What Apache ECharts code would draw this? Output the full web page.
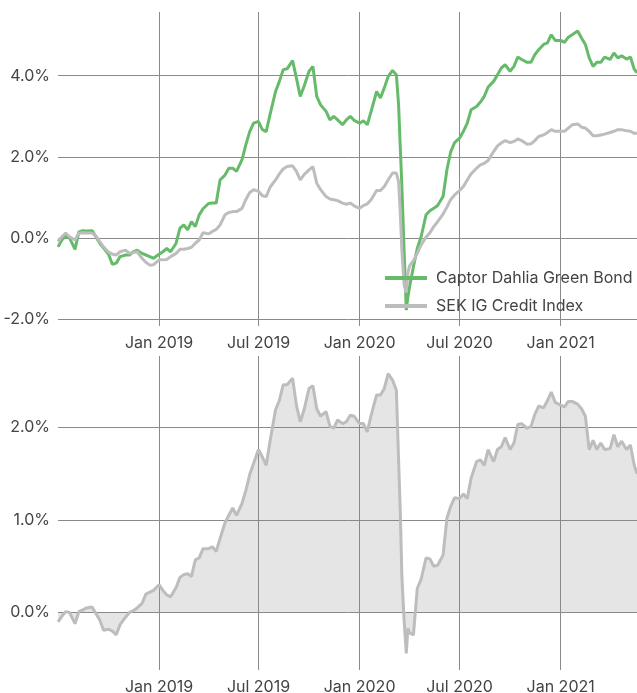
<!DOCTYPE html>
<html>
<head>
<meta charset="utf-8">
<title>Captor Dahlia Green Bond vs SEK IG Credit Index</title>
<script src="https://cdn.jsdelivr.net/npm/echarts@6/dist/echarts.min.js"></script>
<style>
  html, body { margin: 0; padding: 0; background: #fff; }
  #chart { width: 637px; height: 693px; }
</style>
</head>
<body>
<div id="chart"></div>
<script>
// observation dates (roughly weekly, denser around the March 2020 drop)
var dates = [
  '2018-07-01', '2018-07-08', '2018-07-15', '2018-07-22', '2018-08-01', '2018-08-08', '2018-08-15', '2018-08-22',
  '2018-09-01', '2018-09-08', '2018-09-15', '2018-09-22', '2018-10-01', '2018-10-08', '2018-10-15', '2018-10-22',
  '2018-11-01', '2018-11-08', '2018-11-15', '2018-11-22', '2018-12-01', '2018-12-08', '2018-12-15', '2018-12-22',
  '2019-01-01', '2019-01-08', '2019-01-15', '2019-01-22', '2019-02-01', '2019-02-08', '2019-02-15', '2019-02-22',
  '2019-03-01', '2019-03-08', '2019-03-15', '2019-03-22', '2019-04-01', '2019-04-08', '2019-04-15', '2019-04-22',
  '2019-05-01', '2019-05-08', '2019-05-15', '2019-05-22', '2019-06-01', '2019-06-08', '2019-06-15', '2019-06-22',
  '2019-07-01', '2019-07-08', '2019-07-15', '2019-07-22', '2019-08-01', '2019-08-08', '2019-08-15', '2019-08-22',
  '2019-09-01', '2019-09-08', '2019-09-15', '2019-09-22', '2019-10-01', '2019-10-08', '2019-10-15', '2019-10-22',
  '2019-11-01', '2019-11-08', '2019-11-15', '2019-11-22', '2019-12-01', '2019-12-08', '2019-12-15', '2019-12-22',
  '2020-01-01', '2020-01-08', '2020-01-15', '2020-01-22', '2020-02-01', '2020-02-08', '2020-02-15', '2020-02-22',
  '2020-03-01', '2020-03-08', '2020-03-12', '2020-03-15', '2020-03-18', '2020-03-22', '2020-03-26', '2020-03-29',
  '2020-04-01', '2020-04-08', '2020-04-15', '2020-04-22', '2020-05-01', '2020-05-08', '2020-05-15', '2020-05-22',
  '2020-06-01', '2020-06-08', '2020-06-15', '2020-06-22', '2020-07-01', '2020-07-08', '2020-07-15', '2020-07-22',
  '2020-08-01', '2020-08-08', '2020-08-15', '2020-08-22', '2020-09-01', '2020-09-08', '2020-09-15', '2020-09-22',
  '2020-10-01', '2020-10-08', '2020-10-15', '2020-10-22', '2020-11-01', '2020-11-08', '2020-11-15', '2020-11-22',
  '2020-12-01', '2020-12-08', '2020-12-15', '2020-12-22',
  '2021-01-01', '2021-01-08', '2021-01-15', '2021-01-22', '2021-02-01', '2021-02-08', '2021-02-15', '2021-02-22',
  '2021-03-01', '2021-03-08', '2021-03-15', '2021-03-22', '2021-04-01', '2021-04-08', '2021-04-15', '2021-04-22',
  '2021-05-01', '2021-05-08', '2021-05-15', '2021-05-20'
]

// cumulative return, %
var dahliaReturn = [
  -0.22, -0.05, 0.05, 0.0, -0.28, 0.15, 0.18, 0.17, 0.18, 0.03, -0.13, -0.25,
  -0.4, -0.65, -0.62, -0.46, -0.42, -0.42, -0.34, -0.3, -0.38, -0.42, -0.46, -0.5,
  -0.4, -0.34, -0.26, -0.34, -0.13, 0.24, 0.32, 0.2, 0.4, 0.28, 0.57, 0.72,
  0.85, 0.86, 0.86, 1.43, 1.55, 1.72, 1.72, 1.64, 1.93, 2.3, 2.62, 2.83,
  2.87, 2.67, 2.62, 3.04, 3.61, 3.86, 4.15, 4.17, 4.37, 3.94, 3.49, 3.74,
  4.11, 4.23, 3.49, 3.28, 3.12, 2.91, 3.0, 2.91, 2.79, 2.91, 3.0, 2.9,
  2.83, 2.89, 2.79, 3.12, 3.61, 3.45, 3.7, 3.98, 4.13, 4.02,
  3.28, 2.26, 1.27, -0.3, -1.78, -1.45,
  -1.2, -0.71, -0.26, 0.03, 0.57, 0.67, 0.73, 0.8, 1.02, 1.68, 2.13, 2.35,
  2.46, 2.63, 2.83, 3.16, 3.24, 3.35, 3.49, 3.72, 3.86, 4.02, 4.19, 4.27,
  4.11, 4.23, 4.46, 4.4, 4.33, 4.33, 4.52, 4.64, 4.77, 4.81, 5.01, 4.87,
  4.87, 4.82, 4.95, 5.01, 5.1, 4.93, 4.77, 4.44, 4.23, 4.33, 4.33, 4.46,
  4.4, 4.56, 4.44, 4.49, 4.41, 4.46, 4.16, 4.07
]

var creditIndexReturn = [
  -0.09, 0.03, 0.12, 0.03, -0.05, 0.12, 0.13, 0.12, 0.12, 0.05, -0.09, -0.22,
  -0.35, -0.4, -0.42, -0.34, -0.3, -0.38, -0.36, -0.34, -0.5, -0.6, -0.67, -0.66,
  -0.54, -0.54, -0.53, -0.46, -0.38, -0.28, -0.28, -0.26, -0.23, -0.13, -0.05, 0.13,
  0.1, 0.16, 0.21, 0.32, 0.57, 0.63, 0.65, 0.65, 0.73, 0.95, 1.12, 1.19,
  1.15, 1.04, 1.02, 1.25, 1.43, 1.58, 1.7, 1.76, 1.78, 1.64, 1.43, 1.56,
  1.68, 1.76, 1.35, 1.19, 1.02, 0.96, 0.94, 0.92, 0.86, 0.83, 0.86, 0.79,
  0.73, 0.8, 0.84, 0.94, 1.17, 1.17, 1.27, 1.43, 1.6, 1.6,
  1.39, 0.65, -0.3, -1.15, -1.35, -0.86,
  -0.69, -0.56, -0.38, -0.17, 0.02, 0.13, 0.28, 0.4, 0.59, 0.76, 0.95, 1.06,
  1.17, 1.27, 1.43, 1.58, 1.72, 1.8, 1.84, 1.91, 2.13, 2.27, 2.34, 2.4,
  2.35, 2.38, 2.44, 2.4, 2.31, 2.32, 2.4, 2.5, 2.54, 2.6, 2.67, 2.63,
  2.63, 2.63, 2.71, 2.79, 2.81, 2.73, 2.71, 2.63, 2.52, 2.52, 2.54, 2.56,
  2.6, 2.63, 2.67, 2.67, 2.64, 2.63, 2.58, 2.58
]

// excess return vs index, %
var excessReturn = [
  -0.1, -0.04, 0.01, 0.0, -0.12, 0.01, 0.03, 0.05, 0.06, -0.01, -0.08, -0.19,
  -0.18, -0.2, -0.24, -0.13, -0.05, 0.0, 0.02, 0.05, 0.1, 0.2, 0.22, 0.24,
  0.3, 0.24, 0.19, 0.17, 0.27, 0.38, 0.41, 0.42, 0.39, 0.57, 0.59, 0.69,
  0.69, 0.71, 0.66, 0.8, 0.97, 1.05, 1.13, 1.05, 1.18, 1.32, 1.49, 1.61,
  1.76, 1.68, 1.59, 1.85, 2.19, 2.29, 2.46, 2.46, 2.53, 2.24, 2.06, 2.19,
  2.42, 2.45, 2.2, 2.12, 2.17, 2.01, 1.99, 2.08, 2.04, 2.06, 2.13, 2.12,
  2.04, 2.04, 1.95, 2.13, 2.35, 2.35, 2.42, 2.58, 2.51, 2.4,
  1.65, 1.11, 0.39, -0.08, -0.44, -0.17,
  -0.22, -0.24, 0.26, 0.36, 0.59, 0.58, 0.5, 0.51, 0.62, 1.02, 1.15, 1.24,
  1.23, 1.28, 1.23, 1.45, 1.63, 1.65, 1.59, 1.76, 1.63, 1.76, 1.79, 1.89,
  1.76, 1.83, 2.03, 2.04, 1.99, 2.01, 2.14, 2.23, 2.21, 2.29, 2.38, 2.27,
  2.24, 2.22, 2.28, 2.28, 2.25, 2.2, 2.12, 1.76, 1.86, 1.76, 1.83, 1.76,
  1.77, 1.92, 1.79, 1.85, 1.76, 1.81, 1.59, 1.5
]

var tickDates = ['2019-01-01', '2019-07-01', '2020-01-01', '2020-07-01', '2021-01-01']
var topTicks = [-2, 0, 2, 4]
var bottomTicks = [0, 1, 2]
var seriesNames = ['Captor Dahlia Green Bond', 'SEK IG Credit Index']
var monthNames = ['Jan', 'Feb', 'Mar', 'Apr', 'May', 'Jun', 'Jul', 'Aug', 'Sep', 'Oct', 'Nov', 'Dec']

function toTime(s) {
  var p = s.split('-')
  return new Date(+p[0], +p[1] - 1, +p[2]).getTime()
}

function pairs(values) {
  return dates.map(function(d, i) { return [toTime(d), values[i]] })
}

var textColor = '#444'
var gridColor = '#8a8a8a'
var fontFamily = 'Inter, "Noto Sans", sans-serif'
var fontSize = 16
var xTicks = tickDates.map(toTime)

// dates are plotted on a value axis (ms) so the half-year ticks can be placed exactly
function xAxis(gridIndex) {
  return {
    type: 'value',
    gridIndex: gridIndex,
    min: toTime('2018-07-01'),
    max: toTime('2021-05-20'),
    axisLine: { show: false },
    axisTick: { show: false, customValues: xTicks },
    splitLine: { show: true, lineStyle: { color: gridColor, width: 1 } },
    axisLabel: {
      customValues: xTicks,
      margin: 9,
      color: textColor,
      fontSize: fontSize,
      fontFamily: fontFamily,
      formatter: function(v) {
        var dt = new Date(v)
        return monthNames[dt.getMonth()] + ' ' + dt.getFullYear()
      }
    }
  }
}

function yAxis(gridIndex, min, max, ticks) {
  return {
    type: 'value',
    gridIndex: gridIndex,
    min: min,
    max: max,
    axisLine: { show: false },
    axisTick: { show: false, customValues: ticks },
    splitLine: { show: true, lineStyle: { color: gridColor, width: 1 } },
    axisLabel: {
      customValues: ticks,
      margin: 8,
      color: textColor,
      fontSize: fontSize,
      fontFamily: fontFamily,
      formatter: function(v) { return v.toFixed(1) + '%' }
    }
  }
}

var chart = echarts.init(document.getElementById('chart'))

chart.setOption({
  animation: false,
  backgroundColor: '#fff',
  textStyle: { fontFamily: fontFamily },
  grid: [
    { left: 58, right: 0, top: 12, height: 314, outerBoundsMode: 'none' },
    { left: 58, right: 0, top: 356, height: 314, outerBoundsMode: 'none' }
  ],
  legend: {
    data: seriesNames,
    orient: 'vertical',
    left: 380,
    top: 265,
    icon: 'rect',
    itemWidth: 42,
    itemHeight: 4,
    itemGap: 12,
    textStyle: { color: textColor, fontSize: fontSize, padding: [0, 0, 0, 4] }
  },
  xAxis: [xAxis(0), xAxis(1)],
  yAxis: [yAxis(0, -2.17, 5.57, topTicks), yAxis(1, -0.62, 2.77, bottomTicks)],
  series: [
    {
      name: seriesNames[0],
      type: 'line',
      xAxisIndex: 0,
      yAxisIndex: 0,
      showSymbol: false,
      color: '#66bb6a',
      lineStyle: { width: 3, color: '#66bb6a' },
      data: pairs(dahliaReturn)
    },
    {
      name: seriesNames[1],
      type: 'line',
      xAxisIndex: 0,
      yAxisIndex: 0,
      showSymbol: false,
      color: '#bdbdbd',
      lineStyle: { width: 3, color: '#bdbdbd' },
      data: pairs(creditIndexReturn)
    },
    {
      name: 'Excess return',
      type: 'line',
      xAxisIndex: 1,
      yAxisIndex: 1,
      showSymbol: false,
      lineStyle: { width: 3, color: '#bdbdbd' },
      areaStyle: { color: 'rgba(136, 136, 136, 0.31)' },
      data: pairs(excessReturn)
    }
  ]
})
</script>
</body>
</html>
